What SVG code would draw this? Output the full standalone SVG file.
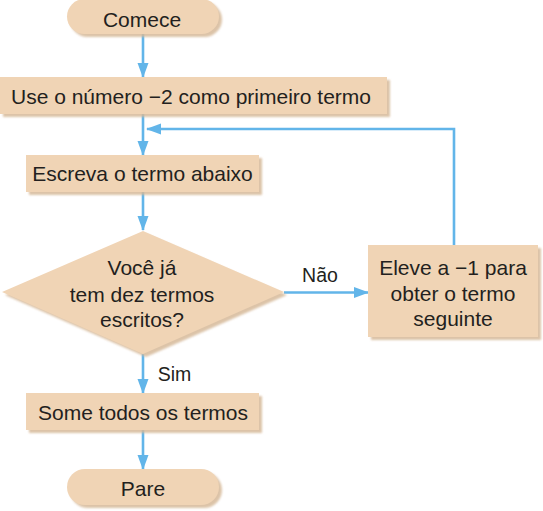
<svg xmlns="http://www.w3.org/2000/svg" width="543" height="511" viewBox="0 0 543 511">
  <style>
    .box { fill: #f0d4b5; }
    .shadow { fill: #d6b999; opacity: 0.85; filter: url(#blur); }
    .lbl { font-family: "Liberation Sans", Arial, sans-serif; font-size: 21px; fill: #231f20; text-anchor: middle; }
    .small { font-size: 19.5px; }
    .conn { fill: none; stroke: #62b5e9; stroke-width: 2.6; }
  </style>
  <defs>
    <filter id="blur" x="-10%" y="-10%" width="120%" height="120%">
      <feGaussianBlur stdDeviation="0.8"/>
    </filter>
    <marker id="arrow" markerUnits="userSpaceOnUse" markerWidth="15" markerHeight="12" viewBox="0 0 15 12" refX="14" refY="6" orient="auto">
      <path d="M0,0.5 L15,6 L0,11.5 z" fill="#62b5e9"/>
    </marker>
  </defs>
  <rect width="543" height="511" fill="#ffffff"/>

  <g id="connectors">
    <line class="conn" x1="143" y1="34" x2="143" y2="77" marker-end="url(#arrow)"/>
    <line class="conn" x1="143" y1="114" x2="143" y2="155" marker-end="url(#arrow)"/>
    <line class="conn" x1="143" y1="192" x2="143" y2="230" marker-end="url(#arrow)"/>
    <line class="conn" x1="284" y1="292.5" x2="368" y2="292.5" marker-end="url(#arrow)"/>
    <line class="conn" x1="143" y1="354" x2="143" y2="393" marker-end="url(#arrow)"/>
    <line class="conn" x1="143" y1="430" x2="143" y2="469" marker-end="url(#arrow)"/>
    <polyline class="conn" points="454,245 454,129 147,129" marker-end="url(#arrow)"/>
    <text class="lbl small" x="320" y="282">Não</text>
    <text class="lbl small" x="174.5" y="381">Sim</text>
  </g>

  <g id="comece">
    <rect class="shadow" x="70" y="2" width="152" height="35" rx="17.5"/>
    <rect class="box" x="67" y="-1" width="152" height="35" rx="17.5"/>
    <text class="lbl" x="142" y="27">Comece</text>
  </g>

  <g id="use">
    <rect class="shadow" x="3" y="80" width="387" height="37"/>
    <rect class="box" x="0" y="77" width="387" height="37"/>
    <text class="lbl" x="191" y="104">Use o número −2 como primeiro termo</text>
  </g>

  <g id="escreva">
    <rect class="shadow" x="29" y="158" width="233" height="37"/>
    <rect class="box" x="26" y="155" width="233" height="37"/>
    <text class="lbl" x="142.5" y="181">Escreva o termo abaixo</text>
  </g>

  <g id="decisao">
    <polygon class="shadow" points="146,234 287,295 146,357 5,295"/>
    <polygon class="box" points="143,231 284,292 143,354 2,292"/>
    <text class="lbl" x="142" y="275">Você já</text>
    <text class="lbl" x="142" y="301.5">tem dez termos</text>
    <text class="lbl" x="142" y="327">escritos?</text>
  </g>

  <g id="eleve">
    <rect class="shadow" x="371" y="248" width="170" height="92"/>
    <rect class="box" x="368" y="245" width="170" height="92"/>
    <text class="lbl" x="453" y="274.5">Eleve a −1 para</text>
    <text class="lbl" x="453" y="300.5">obter o termo</text>
    <text class="lbl" x="453" y="326">seguinte</text>
  </g>

  <g id="some">
    <rect class="shadow" x="29" y="396" width="233" height="37"/>
    <rect class="box" x="26" y="393" width="233" height="37"/>
    <text class="lbl" x="143" y="420">Some todos os termos</text>
  </g>

  <g id="pare">
    <rect class="shadow" x="70" y="472" width="152" height="36" rx="18"/>
    <rect class="box" x="67" y="469" width="152" height="36" rx="18"/>
    <text class="lbl" x="143" y="496">Pare</text>
  </g>
</svg>
